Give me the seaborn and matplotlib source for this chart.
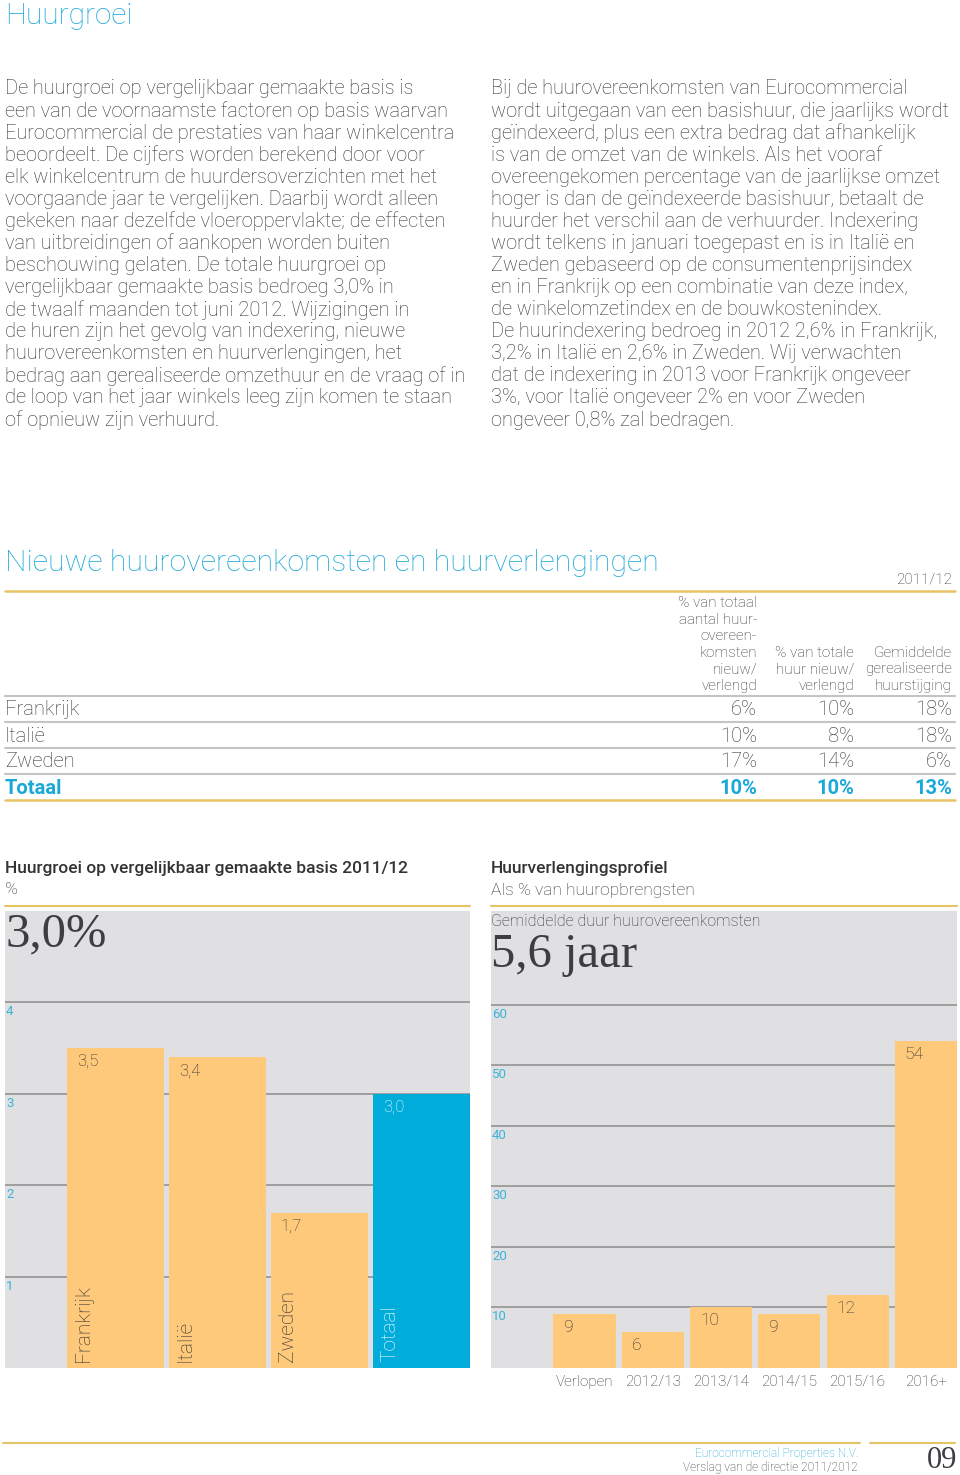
import numpy as np
import pandas as pd
import seaborn as sns
import matplotlib.pyplot as plt

# ---- data ----
landen = ["Frankrijk", "Italië", "Zweden", "Totaal"]
huurgroei = [3.5, 3.4, 1.7, 3.0]
groei_ticks = [1, 2, 3, 4]

perioden = ["Verlopen", "2012/13", "2013/14", "2014/15", "2015/16", "2016+"]
verlenging = [9, 6, 10, 9, 12, 54]
verlenging_ticks = [10, 20, 30, 40, 50, 60]

tabel_landen = ["Frankrijk", "Italië", "Zweden", "Totaal"]
pct_aantal = [6, 10, 17, 10]
pct_huur = [10, 8, 14, 10]
huurstijging = [18, 18, 6, 13]

tekst_links = [
    "De huurgroei op vergelijkbaar gemaakte basis is",
    "een van de voornaamste factoren op basis waarvan",
    "Eurocommercial de prestaties van haar winkelcentra",
    "beoordeelt. De cijfers worden berekend door voor",
    "elk winkelcentrum de huurdersoverzichten met het",
    "voorgaande jaar te vergelijken. Daarbij wordt alleen",
    "gekeken naar dezelfde vloeroppervlakte; de effecten",
    "van uitbreidingen of aankopen worden buiten",
    "beschouwing gelaten. De totale huurgroei op",
    "vergelijkbaar gemaakte basis bedroeg 3,0% in",
    "de twaalf maanden tot juni 2012. Wijzigingen in",
    "de huren zijn het gevolg van indexering, nieuwe",
    "huurovereenkomsten en huurverlengingen, het",
    "bedrag aan gerealiseerde omzethuur en de vraag of in",
    "de loop van het jaar winkels leeg zijn komen te staan",
    "of opnieuw zijn verhuurd.",
]
tekst_rechts = [
    "Bij de huurovereenkomsten van Eurocommercial",
    "wordt uitgegaan van een basishuur, die jaarlijks wordt",
    "geïndexeerd, plus een extra bedrag dat afhankelijk",
    "is van de omzet van de winkels. Als het vooraf",
    "overeengekomen percentage van de jaarlijkse omzet",
    "hoger is dan de geïndexeerde basishuur, betaalt de",
    "huurder het verschil aan de verhuurder. Indexering",
    "wordt telkens in januari toegepast en is in Italië en",
    "Zweden gebaseerd op de consumentenprijsindex",
    "en in Frankrijk op een combinatie van deze index,",
    "de winkelomzetindex en de bouwkostenindex.",
    "De huurindexering bedroeg in 2012 2,6% in Frankrijk,",
    "3,2% in Italië en 2,6% in Zweden. Wij verwachten",
    "dat de indexering in 2013 voor Frankrijk ongeveer",
    "3%, voor Italië ongeveer 2% en voor Zweden",
    "ongeveer 0,8% zal bedragen.",
]

CYAN = "#1aa8d8"
TICK_CYAN = "#3cb3da"
BAR_CYAN = "#00acd9"
ORANGE = "#fec97a"
BG = "#e0e0e2"
GRID = "#9a9a9a"
GOLD = "#e5c465"
TXT = "#333333"
SEP = "#c4c4c4"
SERIF_C = "#3c3e44"

sns.set_theme(style="white")
plt.rcParams["font.family"] = ["Roboto", "DejaVu Sans"]
plt.rcParams["font.weight"] = "light"

W, H = 960, 1475
fig = plt.figure(figsize=(9.6, 14.75), dpi=100)


def put(x, y, s, **kw):
    kw.setdefault("color", TXT)
    kw.setdefault("va", "center")
    fig.text(x / W, 1 - y / H, s, **kw)


def hline(y, x0, x1, color, lw=1.5):
    fig.add_artist(plt.Line2D([x0 / W, x1 / W], [1 - y / H] * 2, color=color, lw=lw))


# ---- body text ----
put(5, 16, "Huurgroei", fontsize=21.5, color=CYAN)
for i, line in enumerate(tekst_links):
    put(5, 89 + 22.07 * i, line, fontsize=14.4)
for i, line in enumerate(tekst_rechts):
    put(491, 89 + 22.07 * i, line, fontsize=14.4)

# ---- table ----
put(5, 563, "Nieuwe huurovereenkomsten en huurverlengingen", fontsize=21.8, color=CYAN)
put(952, 580, "2011/12", fontsize=11, ha="right")
hline(591, 5, 955, GOLD, 1.8)
kop1 = ["% van totaal", "aantal huur-", "overeen-", "komsten", "nieuw/", "verlengd"]
kop2 = ["% van totale", "huur nieuw/", "verlengd"]
kop3 = ["Gemiddelde", "gerealiseerde", "huurstijging"]
for kop, xr in [(kop1, 757), (kop2, 854), (kop3, 952)]:
    for j, line in enumerate(kop):
        put(xr, 686 - 16.6 * (len(kop) - 1 - j), line, fontsize=11, ha="right")
hline(696, 5, 955, SEP, 1.5)
for i, land in enumerate(tabel_landen):
    y = 710 + 26 * i
    last = land == "Totaal"
    kw = dict(fontsize=14.5, color=CYAN if last else TXT, weight="bold" if last else "light")
    put(5, y, land, **kw)
    put(757, y, f"{pct_aantal[i]}%", ha="right", **kw)
    put(854, y, f"{pct_huur[i]}%", ha="right", **kw)
    put(952, y, f"{huurstijging[i]}%", ha="right", **kw)
    if not last:
        hline(y + 12, 5, 955, SEP, 1.5)
hline(800, 5, 955, GOLD, 1.8)

# ---- chart left: huurgroei ----
put(5, 868, "Huurgroei op vergelijkbaar gemaakte basis 2011/12", fontsize=12.5, weight="medium")
put(5, 889, "%", fontsize=12.5)
hline(906, 5, 470, GOLD, 1.5)

ax1 = fig.add_axes([5 / W, 1 - 1368 / H, 465 / W, 457 / H])
df1 = pd.DataFrame({"land": landen, "groei": huurgroei})
sns.barplot(data=df1, x="land", y="groei", hue="land", palette=[ORANGE] * 3 + [BAR_CYAN],
            width=0.95, saturation=1, linewidth=0, legend=False, ax=ax1)
ax1.set_ylim(0, 5)
ax1.set_xlim(-1.08, 3.475)
ax1.set_yticks(groei_ticks)

for i, (land, v) in enumerate(zip(landen, huurgroei)):
    c = "white" if land == "Totaal" else TXT
    ax1.annotate(f"{v:.1f}".replace(".", ","), xy=(i - 0.475, v), xytext=(10, -6),
                 textcoords="offset pixels", ha="left", va="top", fontsize=12, color=c)
    ax1.annotate(land, xy=(i - 0.475, 0), xytext=(7, 6), textcoords="offset pixels",
                 rotation=90, ha="left", va="bottom", fontsize=15, color=c)
for t in groei_ticks:
    ax1.annotate(str(t), xy=(0, t), xycoords=ax1.get_yaxis_transform(), xytext=(1, -3),
                 textcoords="offset pixels", ha="left", va="top", fontsize=9.5,
                 weight="normal", color=TICK_CYAN)
put(6, 934, "3,0%", fontsize=35, family="Liberation Serif", weight="normal", color=SERIF_C)

# ---- chart right: huurverlengingsprofiel ----
put(491, 868, "Huurverlengingsprofiel", fontsize=12.5, weight="medium")
put(491, 890, "Als % van huuropbrengsten", fontsize=12.5)
hline(906, 491, 957, GOLD, 1.5)

ax2 = fig.add_axes([491 / W, 1 - 1368 / H, 466 / W, 457 / H])
df2 = pd.DataFrame({"periode": perioden, "aandeel": verlenging})
sns.barplot(data=df2, x="periode", y="aandeel", color=ORANGE, width=0.91, saturation=1,
            linewidth=0, ax=ax2)
ax2.set_ylim(0, 75.5)
ax2.set_xlim(-1.37, 5.456)
ax2.set_yticks(verlenging_ticks)
for i, v in enumerate(verlenging):
    ax2.annotate(str(v), xy=(i - 0.455, v), xytext=(10, -6), textcoords="offset pixels",
                 ha="left", va="top", fontsize=12.5, color=TXT)
for t in verlenging_ticks:
    ax2.annotate(str(t), xy=(0, t), xycoords=ax2.get_yaxis_transform(), xytext=(1, -3),
                 textcoords="offset pixels", ha="left", va="top", fontsize=9.5,
                 weight="normal", color=TICK_CYAN)
put(491, 921, "Gemiddelde duur huurovereenkomsten", fontsize=11.5)
put(491, 955, "5,6 jaar", fontsize=35, family="Liberation Serif", weight="normal", color=SERIF_C)

for ax in (ax1, ax2):
    ax.set_facecolor(BG)
    ax.set_axisbelow(True)
    ax.grid(axis="y", color=GRID, lw=1.3)
    ax.grid(axis="x", visible=False)
    ax.set_xlabel("")
    ax.set_ylabel("")
    ax.tick_params(length=0, labelleft=False)
    for s in ax.spines.values():
        s.set_visible(False)
ax1.tick_params(labelbottom=False)
ax2.tick_params(labelbottom=True, pad=5, labelsize=11, labelcolor=TXT)

# ---- footer ----
hline(1443, 3, 860, GOLD, 1.5)
hline(1443, 870, 955, GOLD, 1.5)
put(858, 1453, "Eurocommercial Properties N.V.", fontsize=8.6, ha="right", color=CYAN)
put(858, 1467, "Verslag van de directie 2011/2012", fontsize=8.6, ha="right")
put(957, 1460, "09", fontsize=22, ha="right", family="Liberation Serif", weight="normal",
    color=SERIF_C)

fig.savefig("out.png", dpi=100)
